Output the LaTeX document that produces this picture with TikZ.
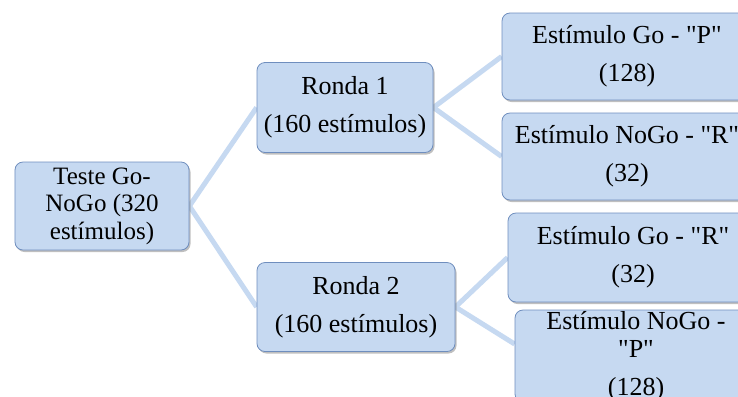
\documentclass[tikz,border=0pt]{standalone}
\usepackage{fontspec}
\setmainfont{Liberation Serif}[Ligatures=TeXOff]
\usepackage{tikz}
\usetikzlibrary{shadows,backgrounds}
\definecolor{boxfill}{HTML}{C6D9F1}
\definecolor{boxline}{HTML}{6F8EBE}
\definecolor{linkblue}{HTML}{C6D9F1}
\tikzset{stim/.style={draw=boxline,fill=boxfill,rounded corners=8bp,line width=0.8bp,align=center,inner sep=0pt,
  drop shadow={opacity=0.5,shadow xshift=1.5bp,shadow yshift=-2bp}},
  link/.style={linkblue,line width=5bp}}

\begin{document}
\begin{tikzpicture}[x=1bp,y=-1bp,font=\fontsize{26bp}{38bp}\selectfont]
\clip (0,0) rectangle (738,396);
\useasboundingbox (0,0) rectangle (738,396);
% --- test and the two rounds
\node[stim,minimum width=174bp,minimum height=88bp,font=\fontsize{25bp}{27.5bp}\selectfont] (teste) at (102,206) {Teste Go-\\NoGo (320\\estímulos)};
\node[stim,minimum width=176bp,minimum height=90bp] (ronda1) at (345,107.5) {Ronda 1\\(160 estímulos)};
\node[stim,minimum width=198bp,minimum height=89bp] (ronda2) at (356,307) {Ronda 2\\(160 estímulos)};
% --- stimuli
\node[stim,minimum width=250bp,minimum height=87bp] (goP) at (627,56.5) {Estímulo Go - "P"\\(128)};
\node[stim,minimum width=250bp,minimum height=87bp] (nogoR) at (627,156.5) {Estímulo NoGo - "R"\\(32)};
\node[stim,minimum width=250bp,minimum height=89bp] (goR) at (633,257.5) {Estímulo Go - "R"\\(32)};
\node[stim,minimum width=242bp,minimum height=92bp] (nogoP) at (636,356) {Estímulo NoGo -\\[-10bp]"P"\\(128)};
% --- links behind the boxes
\begin{scope}[on background layer]
\draw[link] (teste.east) -- (ronda1.west);
\draw[link] (teste.east) -- (ronda2.west);
\draw[link] (ronda1.east) -- (goP.west);
\draw[link] (ronda1.east) -- (nogoR.west);
\draw[link] (ronda2.east) -- (goR.west);
\draw[link] (ronda2.east) -- ([yshift=12bp]nogoP.west);
\end{scope}
\end{tikzpicture}
\end{document}
